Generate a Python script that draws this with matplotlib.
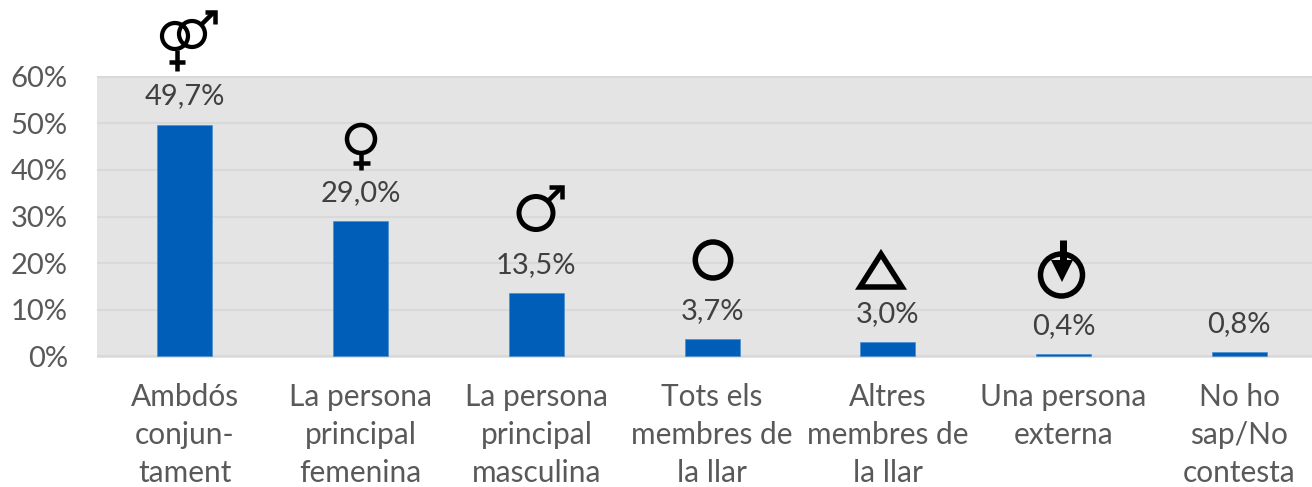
# bar chart with the hand drawn gender symbols over the bars
import matplotlib
matplotlib.use('Agg')
import matplotlib.pyplot as plt
from matplotlib.patches import Ellipse, Polygon

font = {'family': 'Lato', 'weight': 'normal', 'size': 21}
matplotlib.rc('font', **font)

categories = ['Ambdós\nconjun-\ntament', 'La persona\nprincipal\nfemenina',
              'La persona\nprincipal\nmasculina', 'Tots els\nmembres de\nla llar',
              'Altres\nmembres de\nla llar', 'Una persona\nexterna',
              'No ho\nsap/No\ncontesta']
values = [49.7, 29.0, 13.5, 3.7, 3.0, 0.4, 0.8]
value_labels = ['49,7%', '29,0%', '13,5%', '3,7%', '3,0%', '0,4%', '0,8%']
y_ticks = [0, 10, 20, 30, 40, 50, 60]
y_labels = ['0%', '10%', '20%', '30%', '40%', '50%', '60%']

W, H = 1312, 487
fig = plt.figure(figsize=(W / 100, H / 100), dpi=100, facecolor='white')

# panel runs from x=97 to the cut at the right edge, y=76 to y=357.5
ax = fig.add_axes([97 / W, 1 - 357.5 / H, (W - 97) / W, 281.5 / H])
ax.set_facecolor('#E4E4E4')
ax.bar(range(len(values)), values, width=0.313, color='#005EB8',
       edgecolor='#4A8CD2', linewidth=0.5, zorder=3)
ax.set_xlim(-0.5, 6.414)
ax.set_ylim(-0.3, 60.2)
ax.grid(axis='y', color='#D9D9D9', linewidth=1.5, zorder=1)
for s in ax.spines.values():
    s.set_visible(False)
ax.set_yticks(y_ticks)
ax.set_yticklabels(y_labels, color='#595959')
ax.tick_params(axis='y', length=0, pad=21)
ax.set_xticks(range(len(categories)))
ax.set_xticklabels(categories, color='#595959', fontsize=21.5, linespacing=1.43)
ax.tick_params(axis='x', length=0, pad=18.5)

for i, v in enumerate(values):
    ax.annotate(value_labels[i], (i, v), xytext=(0, 20.4), textcoords='offset points',
                ha='center', va='center', color='#404040', zorder=4)

# symbols are pasted pictures in the original, so draw them in pixel coordinates
ov = fig.add_axes([0, 0, 1, 1])
ov.set_xlim(0, W)
ov.set_ylim(H, 0)
ov.axis('off')
ov.patch.set_alpha(0)


def ring(x, y, rx, ry, lw):
    ov.add_patch(Ellipse((x, y), 2 * rx, 2 * ry, fill=False, ec='black', lw=lw * 0.72))


def stroke(xs, ys, lw):
    ov.plot(xs, ys, color='black', lw=lw * 0.72, solid_capstyle='butt', solid_joinstyle='miter')


# both
ring(175, 36, 13, 13, 4.2)
ring(192, 34, 13, 13, 4.2)
stroke([177, 177], [50, 71], 4.5)
stroke([169, 185], [62, 62], 4.5)
stroke([202, 214], [24, 12], 4.5)
stroke([205, 215, 215], [12, 12, 24], 4.5)

# female
ring(361, 139, 14, 14, 4.5)
stroke([361, 361], [154, 170], 4.5)
stroke([353, 370], [163, 163], 4.5)

# male
ring(536, 213, 17, 16.5, 5)
stroke([549, 562], [200, 187], 4.5)
stroke([549, 562, 562], [187, 187, 199], 4.5)

# all members
ring(713, 260, 17.7, 18, 5.5)

# other members
ov.add_patch(Polygon([(881, 254), (902, 287), (860, 287)], closed=True, fill=False,
                     ec='black', lw=5.5 * 0.72, joinstyle='miter'))

# external person
ring(1061.5, 275, 21, 21, 5.5)
stroke([1062.5, 1062.5], [240, 262], 7)
ov.add_patch(Polygon([(1051, 260), (1073, 260), (1062, 282)], closed=True, fc='black', ec='none'))

fig.savefig('out.png', dpi=100)
plt.close(fig)
